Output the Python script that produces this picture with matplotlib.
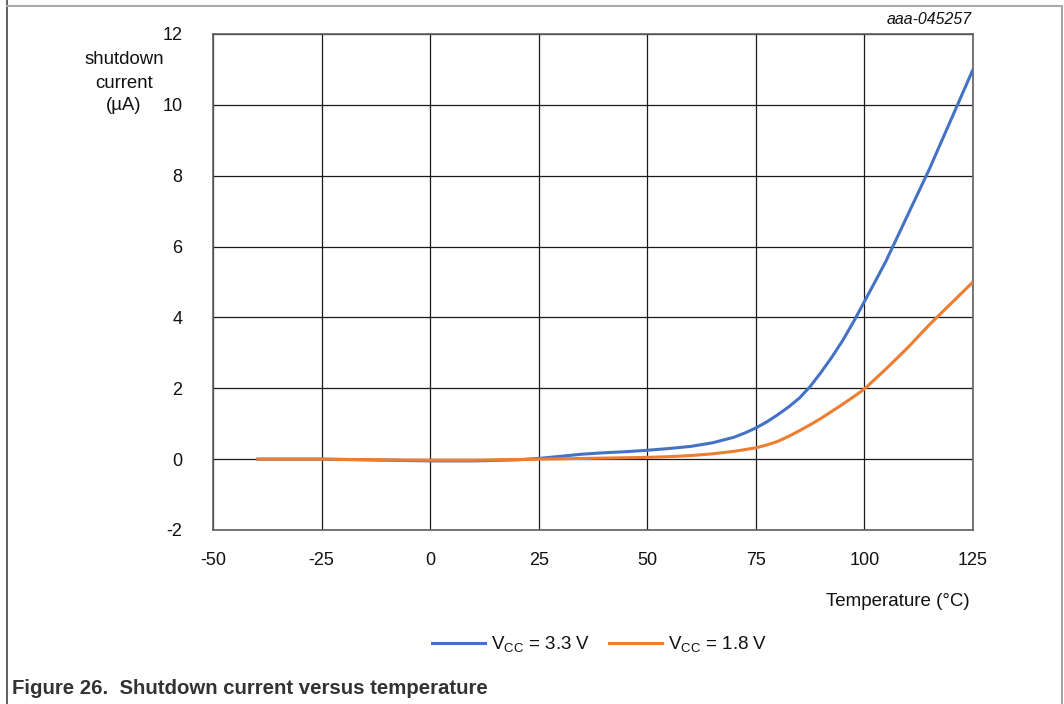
import matplotlib
matplotlib.use("Agg")
import matplotlib.pyplot as plt
from matplotlib.lines import Line2D

plt.rcParams['font.family'] = ['Liberation Sans', 'DejaVu Sans']
plt.rcParams['mathtext.fontset'] = 'custom'
plt.rcParams['mathtext.rm'] = 'Liberation Sans'

# data
temp_33 = [-40, -25, -10, 0, 10, 20, 25, 30, 35, 40, 45, 50, 55, 60, 65, 70, 72.5, 75, 77.5, 80, 82.5, 85,
           87.5, 90, 92.5, 95, 97.5, 100, 102.5, 105, 110, 115, 120, 125]
curr_33 = [0.0, 0.0, -0.03, -0.05, -0.05, -0.02, 0.02, 0.08, 0.14, 0.18, 0.21, 0.25, 0.3, 0.36, 0.46, 0.62, 0.74,
           0.88, 1.05, 1.25, 1.47, 1.72, 2.05, 2.45, 2.88, 3.35, 3.88, 4.45, 5.02, 5.6, 6.9, 8.2, 9.6, 11.0]
temp_18 = [-40, -25, -10, 0, 10, 20, 25, 30, 40, 50, 55, 60, 65, 70, 72.5, 75, 77.5, 80, 82.5, 85, 87.5, 90,
           92.5, 95, 97.5, 100, 105, 110, 115, 120, 125]
curr_18 = [0.0, 0.0, -0.02, -0.03, -0.03, -0.01, 0.0, 0.01, 0.03, 0.05, 0.07, 0.1, 0.15, 0.22, 0.27, 0.32, 0.4,
           0.5, 0.64, 0.8, 0.97, 1.15, 1.35, 1.55, 1.76, 1.98, 2.55, 3.15, 3.8, 4.4, 5.0]
labels = [r'V$_{\mathregular{CC}}$ = 3.3 V', r'V$_{\mathregular{CC}}$ = 1.8 V']
colors = ['#4472C4', '#ED7D31']
xticks = [-50, -25, 0, 25, 50, 75, 100, 125]
yticks = [-2, 0, 2, 4, 6, 8, 10, 12]
ylabel_lines = ['shutdown', 'current', '(µA)']

W, H = 1064, 704
fig = plt.figure(figsize=(W / 100, H / 100), dpi=100)
ax = fig.add_axes([213 / W, 1 - 530 / H, 760 / W, 496 / H])

ax.plot(temp_33, curr_33, color=colors[0], lw=2.2, solid_capstyle='butt', solid_joinstyle='round', zorder=3)
ax.plot(temp_18, curr_18, color=colors[1], lw=2.2, solid_capstyle='butt', solid_joinstyle='round', zorder=4)

ax.set_xlim(-50, 125)
ax.set_ylim(-2, 12)
ax.set_xticks(xticks)
ax.set_yticks(yticks)
ax.set_xticklabels([str(v) for v in xticks], fontsize=13)
ax.set_yticklabels([str(v) for v in yticks], fontsize=13)
ax.tick_params(axis='x', length=0, pad=16, colors='#111111')
ax.tick_params(axis='y', length=0, pad=22, colors='#111111')
ax.grid(True, color='#1a1a1a', lw=0.9)
ax.set_axisbelow(True)
for s in ax.spines.values():
    s.set_color('#606060')
    s.set_linewidth(1.2)

# y label, one text per line
for ypix, line in zip([60, 83, 106], ylabel_lines):
    fig.text(124 / W, 1 - ypix / H, line, ha='center', va='center',
             fontsize=13.4, color='#111111')
fig.text(970 / W, 1 - 601 / H, 'Temperature (°C)', ha='right', va='center',
         fontsize=13.5, color='#111111')
fig.text(972 / W, 1 - 19 / H, 'aaa-045257', ha='right', va='center',
         fontsize=11.4, style='italic', color='#111111')

# legend
handles = [Line2D([], [], color=c, lw=2.2) for c in colors]
leg = fig.legend(handles, labels, loc='center', bbox_to_anchor=(600 / W, 1 - 645 / H),
                 ncol=2, frameon=False, fontsize=13.5, handlelength=2.8,
                 columnspacing=1.0, handletextpad=0.35)
for t in leg.get_texts():
    t.set_color('#111111')

# caption
fig.text(12 / W, 1 - 688 / H, 'Figure 26.  Shutdown current versus temperature',
         ha='left', va='center', fontsize=14.7, fontweight='bold', color='#333333')

# frame lines
fig.add_artist(Line2D([7 / W, 7 / W], [0, 1], color='#555555', lw=1.3))
fig.add_artist(Line2D([1062 / W, 1062 / W], [0, 1 - 6 / H], color='#999999', lw=1.3))
fig.add_artist(Line2D([7 / W, 1062 / W], [1 - 6 / H, 1 - 6 / H], color='#aaaaaa', lw=1.5))

fig.savefig('out.png', dpi=100)
